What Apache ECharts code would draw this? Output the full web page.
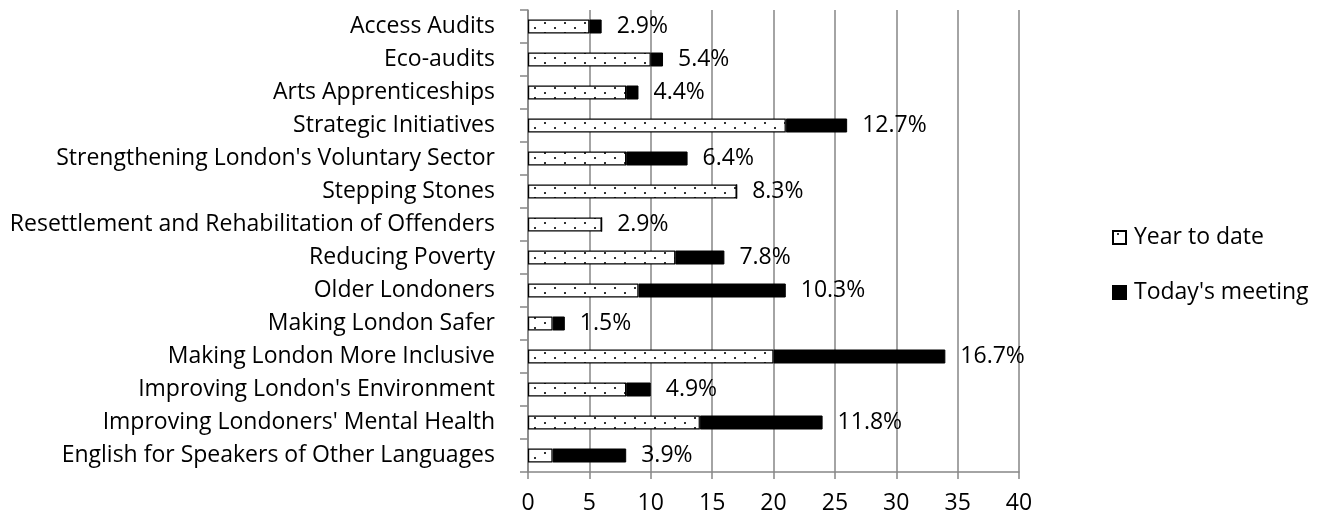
<!DOCTYPE html>
<html><head><meta charset="utf-8">
<script src="https://cdn.jsdelivr.net/npm/echarts@6/dist/echarts.min.js"></script>
<style>html,body{margin:0;padding:0;background:#fff}#c{width:1329px;height:521px}</style>
</head><body><div id="c"></div>
<script>
const categories = ["Access Audits","Eco-audits","Arts Apprenticeships","Strategic Initiatives","Strengthening London's Voluntary Sector","Stepping Stones","Resettlement and Rehabilitation of Offenders","Reducing Poverty","Older Londoners","Making London Safer","Making London More Inclusive","Improving London's Environment","Improving Londoners' Mental Health","English for Speakers of Other Languages"];
const yearToDate = [5,10,8,21,8,17,6,12,9,2,20,8,14,2];
const todaysMeeting = [1,1,1,5,5,0,0,4,12,1,14,2,10,6];
const shareLabels = ["2.9%","5.4%","4.4%","12.7%","6.4%","8.3%","2.9%","7.8%","10.3%","1.5%","16.7%","4.9%","11.8%","3.9%"];
const xTicks = {min:0, max:40, interval:5};

const cv = document.createElement('canvas');
cv.width = 20; cv.height = 10;
const cx = cv.getContext('2d');
cx.fillStyle = '#fff'; cx.fillRect(0,0,20,10);
cx.fillStyle = '#333';
cx.fillRect(4,2,2,2);
cx.fillRect(14,7,2,2);

const font = '"Open Sans", Calibri, sans-serif';
const chart = echarts.init(document.getElementById('c'));
chart.setOption({
  animation:false,
  textStyle:{fontFamily:font},
  grid:{left:528,right:310,top:10,bottom:49},
  legend:{
    orient:'vertical', left:1112, top:226, padding:0, itemWidth:13, itemHeight:13, itemGap:32,
    icon:'rect',
    textStyle:{fontSize:23,color:'#000',fontFamily:font,padding:[0,0,0,3]},
    data:['Year to date',"Today's meeting"]
  },
  xAxis:{
    type:'value', min:xTicks.min, max:xTicks.max, interval:xTicks.interval,
    axisLine:{show:true,lineStyle:{color:'#868686',width:1.5}},
    axisTick:{show:true,length:7,lineStyle:{color:'#868686',width:1.5}},
    splitLine:{show:true,lineStyle:{color:'#868686',width:1.5}},
    axisLabel:{fontSize:23,color:'#000',margin:20,fontFamily:font}
  },
  yAxis:{
    type:'category', data:categories, inverse:true,
    axisLine:{show:true,lineStyle:{color:'#868686',width:1.5}},
    axisTick:{show:true,length:8,lineStyle:{color:'#868686',width:1.5}},
    axisLabel:{fontSize:23,color:'#000',margin:33,fontFamily:font}
  },
  series:[
    {name:'Year to date',type:'bar',stack:'a',barWidth:14,data:yearToDate,
     itemStyle:{color:{image:cv,repeat:'repeat'},borderColor:'#000',borderWidth:1.2}},
    {name:"Today's meeting",type:'bar',stack:'a',barWidth:14,data:todaysMeeting,
     itemStyle:{color:'#000',borderColor:'#000',borderWidth:1},
     label:{show:true,position:'right',distance:15,fontSize:23,color:'#000',fontFamily:font,
       formatter:p=>shareLabels[p.dataIndex]}}
  ]
});
</script></body></html>
